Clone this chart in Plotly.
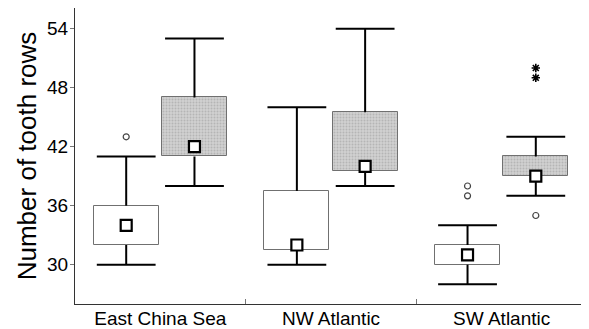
import plotly.graph_objects as go

categories = ["East China Sea", "NW Atlantic", "SW Atlantic"]
# white (first) series per category
w_lower = [30, 30, 28]
w_q1 = [32, 31.5, 30]
w_q3 = [36, 37.5, 32]
w_upper = [41, 46, 34]
w_mean = [34, 32, 31]
# gray (second) series per category
g_lower = [38, 38, 37]
g_q1 = [41, 39.5, 39]
g_q3 = [47, 45.5, 41]
g_upper = [53, 54, 43]
g_mean = [42, 40, 39]
# outliers (category index, value)
w_out_cat = [0, 2, 2]
w_out_val = [43, 38, 37]
g_out_cat = [2]
g_out_val = [35]
g_ext_cat = [2, 2]
g_ext_val = [50, 49]
yticks = [30, 36, 42, 48, 54]

OFF = 0.2
BW = 0.38
idx = list(range(len(categories)))

fig = go.Figure()


def add_series(lower, q1, q3, upper, offset, fill, pattern):
    xs = [i + offset for i in idx]
    # whisker stems
    sx, sy = [], []
    for x, l, a, b, u in zip(xs, lower, q1, q3, upper):
        sx += [x, x, None, x, x, None]
        sy += [b, u, None, l, a, None]
    fig.add_trace(go.Scatter(x=sx, y=sy, mode="lines",
                             line=dict(color="black", width=2), showlegend=False))
    # whisker caps
    fig.add_trace(go.Scatter(x=xs + xs, y=upper + lower, mode="markers",
                             marker=dict(symbol="line-ew", size=42,
                                         line=dict(color="black", width=2)),
                             showlegend=False))
    marker = dict(color=fill, line=dict(color="#707070", width=1))
    if pattern:
        marker["pattern"] = dict(shape=".", fgcolor="#9a9a9a", bgcolor="#d0d0d0",
                                 size=3, solidity=0.35)
    fig.add_trace(go.Bar(x=xs, y=[b - a for a, b in zip(q1, q3)], base=q1, width=BW,
                         marker=marker, showlegend=False))
    return xs


wx = add_series(w_lower, w_q1, w_q3, w_upper, -OFF, "white", False)
gx = add_series(g_lower, g_q1, g_q3, g_upper, OFF, "#c8c8c8", True)

# means
fig.add_trace(go.Scatter(x=wx + gx, y=w_mean + g_mean, mode="markers",
                         marker=dict(symbol="square", size=11, color="white",
                                     line=dict(color="black", width=2.2)),
                         showlegend=False))
# outliers
fig.add_trace(go.Scatter(x=[c - OFF for c in w_out_cat] + [c + OFF for c in g_out_cat],
                         y=w_out_val + g_out_val, mode="markers",
                         marker=dict(symbol="circle-open", size=6, color="#444",
                                     line=dict(width=1.2)),
                         showlegend=False))
fig.add_trace(go.Scatter(x=[c + OFF for c in g_ext_cat], y=g_ext_val, mode="markers",
                         marker=dict(symbol="asterisk-open", size=7, color="black",
                                     line=dict(width=1.6, color="black")),
                         showlegend=False))

# page body has an 8px default margin, so the figure is sized to fit the window
fig.update_layout(
    width=581, height=321,
    margin=dict(l=67, r=2, t=0, b=25),
    plot_bgcolor="white", paper_bgcolor="white",
    font=dict(family="Liberation Sans, Arial, sans-serif", color="black"),
    bargap=0,
)
fig.update_xaxes(range=[-0.5, 2.5], tickmode="array", tickvals=idx, ticktext=categories,
                 ticks="", showgrid=False, zeroline=False, automargin=False,
                 showline=True, linecolor="#333", linewidth=1, mirror=True,
                 tickfont=dict(size=19), ticklabelstandoff=-3,
                 minor=dict(tickmode="array", tickvals=[0.5, 1.5], ticks="inside",
                            ticklen=5, tickcolor="#777", showgrid=False))
fig.update_yaxes(range=[26, 56.1], tickmode="array", tickvals=yticks,
                 ticks="outside", ticklen=4, tickcolor="#777",
                 showgrid=False, zeroline=False, automargin=False,
                 showline=True, linecolor="#333", linewidth=1, mirror="ticks",
                 tickfont=dict(size=19), ticklabelstandoff=-2,
                 title=dict(text="Number of tooth rows", font=dict(size=26), standoff=2))

fig.write_html("out.html")
